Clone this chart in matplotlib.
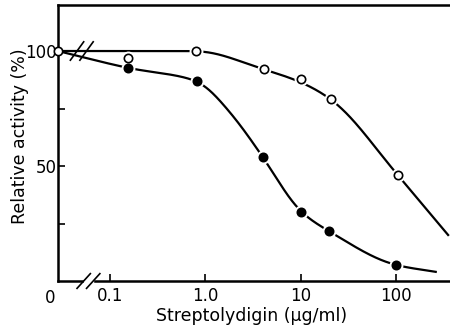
import numpy as np
import matplotlib
matplotlib.use("Agg")
import matplotlib.pyplot as plt

# Data (concentration in ug/ml, relative activity in %)
open_conc = [0.155, 0.8, 4.1, 10, 21, 105]
open_act = [97, 100, 92, 88, 79, 46]
filled_conc = [0.155, 0.82, 4.0, 10, 20, 100]
filled_act = [92.6, 87, 54, 30, 21.6, 6.9]
zero_act = 100  # both series at concentration 0

# hand-drawn curve nodes (conc, activity)
open_curve_conc = [0.8, 4.1, 10, 21, 105, 355]
open_curve_act = [100, 92, 86.5, 79, 46, 20]
filled_curve_conc = [0.155, 0.82, 1.8, 4.0, 10, 20, 100, 263]
filled_curve_act = [92.6, 87, 73.5, 54, 30, 21.6, 6.9, 4]

xtick_vals = [0.1, 1.0, 10, 100]
xtick_labels = ["0.1", "1.0", "10", "100"]

X_ZERO = -1.55   # axis position (log10 units) used for concentration 0
X_MAX = 2.57


def pchip(x, y, xn):
    x = np.asarray(x, float)
    y = np.asarray(y, float)
    h = np.diff(x)
    d = np.diff(y) / h
    m = np.zeros_like(y)
    m[0], m[-1] = d[0], d[-1]
    for k in range(1, len(x) - 1):
        if d[k - 1] * d[k] <= 0:
            m[k] = 0
        else:
            w1 = 2 * h[k] + h[k - 1]
            w2 = h[k] + 2 * h[k - 1]
            m[k] = (w1 + w2) / (w1 / d[k - 1] + w2 / d[k])
    out = np.empty_like(xn)
    for i, xv in enumerate(xn):
        k = min(max(np.searchsorted(x, xv) - 1, 0), len(x) - 2)
        t = (xv - x[k]) / h[k]
        h00 = 2 * t**3 - 3 * t**2 + 1
        h10 = t**3 - 2 * t**2 + t
        h01 = -2 * t**3 + 3 * t**2
        h11 = t**3 - t**2
        out[i] = h00 * y[k] + h10 * h[k] * m[k] + h01 * y[k + 1] + h11 * h[k] * m[k + 1]
    return out


def smooth_curve(nx, ny, sigma=0.09, n=800):
    lx = np.linspace(nx[0], nx[-1], n)
    ly = pchip(nx, ny, lx)
    dx = lx[1] - lx[0]
    r = int(4 * sigma / dx)
    k = np.exp(-0.5 * (np.arange(-r, r + 1) * dx / sigma) ** 2)
    k /= k.sum()
    s0 = (ly[1] - ly[0]) / dx
    s1 = (ly[-1] - ly[-2]) / dx
    left = ly[0] + s0 * dx * np.arange(-r, 0)
    right = ly[-1] + s1 * dx * np.arange(1, r + 1)
    padded = np.concatenate([left, ly, right])
    return lx, np.convolve(padded, k, mode="valid")


fig = plt.figure(figsize=(4.5, 3.31), dpi=100)
ax = fig.add_axes([58 / 450, 1 - 281 / 331, 1 - 58 / 450, (281 - 5) / 331])

lw = 1.6
for conc, act, cc, ca, face in [
        (open_conc, open_act, open_curve_conc, open_curve_act, "white"),
        (filled_conc, filled_act, filled_curve_conc, filled_curve_act, "black")]:
    nx = np.concatenate([[X_ZERO], np.log10(cc)])
    ny = np.concatenate([[zero_act], ca])
    lx, ly = smooth_curve(nx, ny)
    ax.plot(lx, ly, color="black", lw=lw, zorder=2)
    ax.plot(np.log10(conc), act, "o", ms=9, mfc="white", mec="white", zorder=3)
    ax.plot(np.log10(conc), act, "o", ms=6, mfc=face, mec="black", mew=1.2, zorder=4)

ax.plot([X_ZERO], [zero_act], "o", ms=6, mfc="white", mec="black", mew=1.2,
        zorder=5, clip_on=False)

ax.set_xlim(X_ZERO, X_MAX)
ax.set_ylim(0, 120)

ax.spines["right"].set_visible(False)
for s in ["left", "bottom", "top"]:
    ax.spines[s].set_linewidth(1.8)

ax.set_xticks(np.log10(xtick_vals))
ax.set_xticklabels(xtick_labels)
ax.set_yticks([100, 50])
ax.set_yticklabels(["100", "50"])
ax.set_yticks([25, 75], minor=True)
ax.tick_params(direction="in", length=5, width=1.2, labelsize=12)
ax.tick_params(axis="y", pad=1)
ax.tick_params(axis="x", pad=4)
ax.tick_params(which="minor", direction="in", length=5, width=1.2)

ax.text(X_ZERO - 0.08, -3.5, "0", ha="center", va="top", fontsize=12)

# break marks on x axis and on the 100% line
def brk(xc, yc, dx, dy, gap):
    for off in (-gap, gap):
        ax.plot([xc + off - dx, xc + off + dx], [yc - dy, yc + dy], color="black",
                lw=1.2, clip_on=False, zorder=6)

ax.fill_between([-1.28, -1.18], -1.5, 1.5, color="white", zorder=5, clip_on=False)
brk(-1.23, 0, 0.07, 3.2, 0.05)
brk(-1.3, 100, 0.07, 4, 0.05)

ax.set_xlabel("Streptolydigin (\u03bcg/ml)", fontsize=12.5)
ax.set_ylabel("Relative activity (%)", fontsize=12.5)
ax.xaxis.set_label_coords((252 - 58) / 392, -(316 - 281) / 276)
ax.yaxis.set_label_coords(-(58 - 20) / 392, (281 - 136) / 276)
ax.xaxis.label.set_va("center")
ax.yaxis.label.set_va("center")
ax.yaxis.label.set_ha("center")

fig.savefig("out.png", dpi=100)
